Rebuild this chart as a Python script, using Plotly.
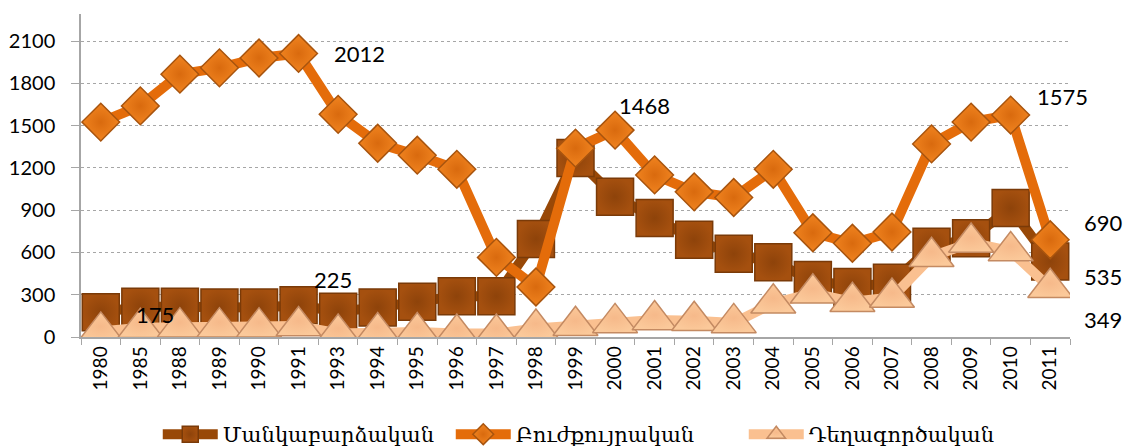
import plotly.graph_objects as go

years = ["1980","1985","1988","1989","1990","1991","1993","1994","1995","1996","1997",
         "1998","1999","2000","2001","2002","2003","2004","2005","2006","2007","2008",
         "2009","2010","2011"]

mankabardz = [175, 215, 215, 210, 210, 225, 180, 210, 250, 290, 290,
              695, 1270, 995, 845, 690, 590, 530, 405, 355, 385, 640,
              700, 915, 535]
buzhkuyr = [1525, 1640, 1865, 1910, 1980, 2012, 1580, 1375, 1290, 1190, 565,
            355, 1340, 1468, 1150, 1030, 990, 1190, 740, 665, 745, 1370,
            1525, 1575, 690]
deghagorts = [40, 65, 70, 70, 70, 78, 25, 35, 35, 25, 25,
              60, 80, 100, 120, 115, 100, 240, 310, 250, 280, 570,
              670, 610, 349]

names = ["Մանկաբարձական", "Բուժքույրական", "Դեղագործական"]

fig = go.Figure()
fig.add_trace(go.Scatter(
    x=years, y=mankabardz, name=names[0], mode="lines+markers",
    line=dict(color="#984807", width=10),
    marker=dict(symbol="square", size=37, color="#A5500F",
                line=dict(color="#7A3A08", width=1.5),
                gradient=dict(type="radial", color="#8E430A")),
))
fig.add_trace(go.Scatter(
    x=years, y=buzhkuyr, name=names[1], mode="lines+markers",
    line=dict(color="#E46C0A", width=10),
    marker=dict(symbol="diamond", size=29, color="#F0831F",
                line=dict(color="#A8540E", width=1.5),
                gradient=dict(type="radial", color="#D96A0E")),
))
fig.add_trace(go.Scatter(
    x=years, y=deghagorts, name=names[2], mode="lines+markers",
    line=dict(color="#FAC090", width=10),
    marker=dict(symbol="triangle-up", size=39, color="#FBC99A",
                line=dict(color="#C48A62", width=1.5),
                gradient=dict(type="radial", color="#F6B98A")),
))

# data labels: (series values, index, xshift, yshift)
labels = [
    (buzhkuyr, 5, 61, 0),
    (mankabardz, 5, 34, 26),
    (mankabardz, 0, 54, -2),
    (buzhkuyr, 13, 29, 25),
    (buzhkuyr, 23, 52, 19),
    (buzhkuyr, 24, 53, 17),
    (mankabardz, 24, 53, -15),
    (deghagorts, 24, 53, -32),
]
for series, i, dx, dy in labels:
    fig.add_annotation(x=i, y=series[i], xref="x", yref="y",
                       text=str(series[i]), showarrow=False,
                       xshift=dx, yshift=dy,
                       font=dict(family="Lato, Open Sans, sans-serif", size=22, color="#000000"))

fig.update_layout(
    width=1125, height=448,
    margin=dict(l=81, r=55, t=14, b=111, autoexpand=False),
    paper_bgcolor="white", plot_bgcolor="white",
    showlegend=True,
    legend=dict(orientation="h", x=0.522, xanchor="center",
                yref="container", y=0.03, yanchor="middle",
                font=dict(family="DejaVu Serif, serif", size=21, color="#000000"),
                itemwidth=55, tracegroupgap=0,
                entrywidthmode="pixels", entrywidth=223),
    font=dict(family="Lato, Open Sans, sans-serif", color="#000000"),
)
fig.update_xaxes(
    type="category", tickangle=-90, tickfont=dict(size=19),
    showline=True, linecolor="#A6A6A6", linewidth=1.5,
    ticks="outside", tickson="boundaries", ticklen=6, tickcolor="#A6A6A6",
    showgrid=False, range=[-0.5, len(years) - 0.5], automargin=False,
)
fig.update_yaxes(
    range=[0, 2292], tickvals=[0, 300, 600, 900, 1200, 1500, 1800, 2100],
    tickfont=dict(size=20),
    showline=True, linecolor="#A6A6A6", linewidth=1.5,
    ticks="outside", ticklen=8, tickcolor="#A6A6A6",
    showgrid=True, gridcolor="#A6A6A6", griddash="dot", gridwidth=1,
    zeroline=False, ticklabelstandoff=12, automargin=False,
)

fig.write_html("out.html", config={"displayModeBar": False},
               post_script="document.body.style.margin='0';document.body.style.padding='0';")
